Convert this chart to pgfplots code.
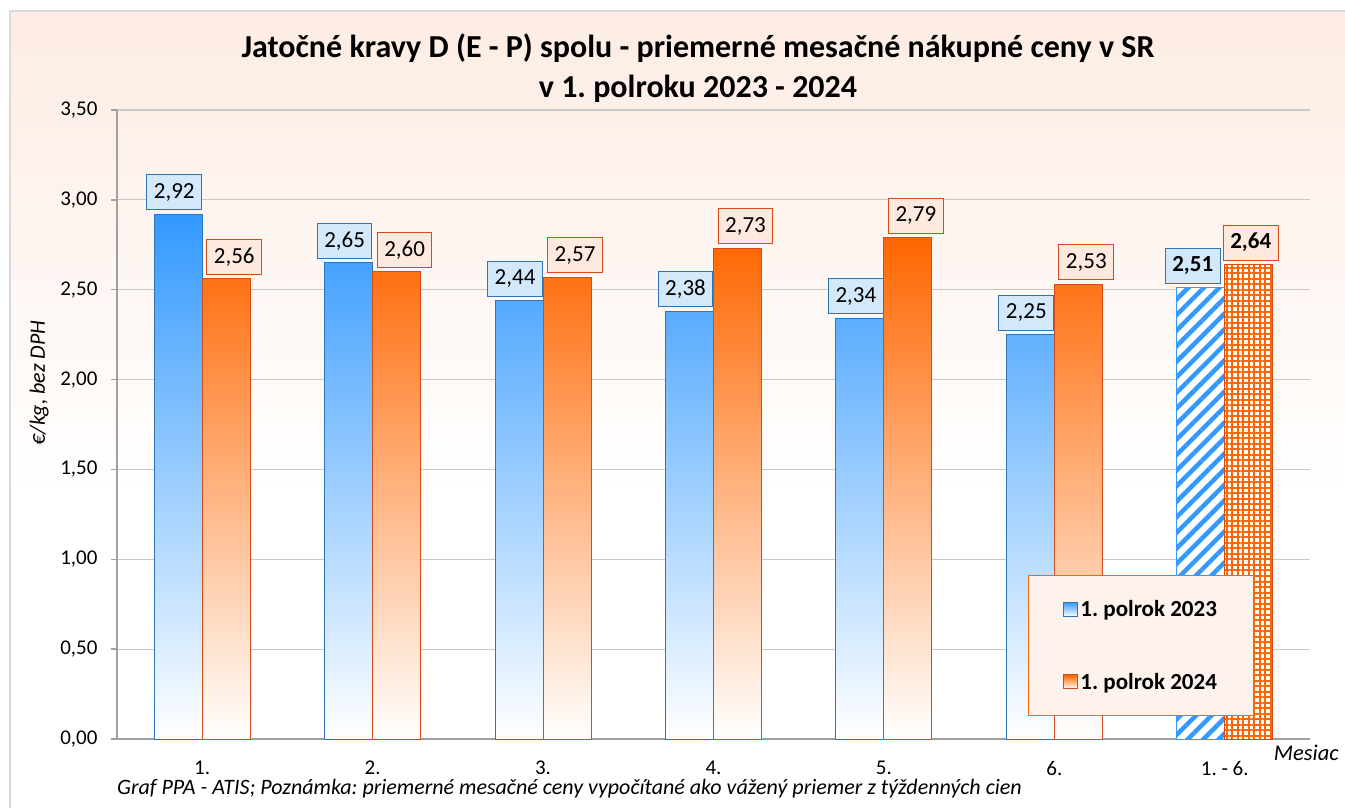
\documentclass[border=0pt]{standalone}
\usepackage{fontspec}
\setmainfont{Carlito}
\usepackage{pgfplots}
\pgfplotsset{compat=1.18}
\usetikzlibrary{patterns.meta}
\definecolor{bluetop}{RGB}{51,153,255}
\definecolor{blueedge}{RGB}{46,117,182}
\definecolor{orangetop}{RGB}{255,102,0}
\definecolor{orangeedge}{RGB}{210,75,25}
\definecolor{bluelab}{RGB}{212,232,252}
\definecolor{orangelab}{RGB}{253,233,221}
\definecolor{peach}{RGB}{252,230,218}
\definecolor{legfill}{RGB}{253,242,236}
\definecolor{gridc}{RGB}{200,200,200}
\definecolor{axisc}{RGB}{160,160,160}
\definecolor{framec}{RGB}{217,217,217}
\pgfplotsset{/pgf/number format/.cd, use comma, fixed, fixed zerofill, precision=2, assume math mode=true}
\frenchspacing
\begin{document}
\begin{tikzpicture}
\clip (0pt,0pt) rectangle (1345pt,-807pt);
\begin{scope}
\clip (10pt,-11pt) rectangle (1360pt,-820pt);
\fill[white] (10pt,-11pt) rectangle (1360pt,-820pt);
\shade[top color=peach, bottom color=white] (10pt,150pt) rectangle (1360pt,-500pt);
\end{scope}
\draw[framec, line width=1.5pt] (10pt,-11pt) rectangle (1360pt,-820pt);
\begin{axis}[
  at={(117pt,-739pt)}, anchor=south west,
  scale only axis, width=1193pt, height=629pt,
  xmin=-0.5, xmax=6.5, ymin=0, ymax=3.5,
  ytick={0,0.5,1,1.5,2,2.5,3,3.5},
  scaled y ticks=false,
  xtick={0,1,2,3,4,5,6},
  xticklabels={1.,2.,3.,4.,5.,6.,1. - 6.},
  axis lines*=left,
  axis line style={axisc, line width=1.5pt},
  ymajorgrids, grid style={gridc, line width=1.2pt},
  x tick style={draw=none},
  y tick style={axisc, line width=1.5pt},
  tick align=outside, major tick length=6pt,
  tick label style={font=\fontsize{21}{25}\selectfont},
  xticklabel style={inner sep=0pt, yshift=-16pt},
  yticklabel style={xshift=-10pt},
  clip=false,
  legend style={at={(0.7636,0.2607)}, anchor=north west, draw=orangetop, fill=legfill, line width=1pt,
    font=\bfseries\fontsize{23}{28}\selectfont, inner xsep=35pt, inner ysep=23pt, row sep=51pt},
  legend cell align=left,
]
\addplot[ybar, bar width=48pt, bar shift=-24pt, draw=blueedge, line width=1pt,
  top color=bluetop, bottom color=white,
  nodes near coords,
  every node near coord/.append style={draw=blueedge, fill=bluelab, text=black, line width=1pt,
    font=\fontsize{23}{27}\selectfont, inner xsep=7pt, minimum height=35pt, anchor=south, yshift=4pt, xshift=-28pt},
  legend image code/.code={\draw[draw=blueedge, line width=1pt, top color=bluetop, bottom color=white] (0pt,-7pt) rectangle (14pt,7pt);}
] coordinates {(0,2.92) (1,2.65) (2,2.44) (3,2.38) (4,2.34) (5,2.25)};
\addplot[ybar, bar width=48pt, bar shift=24pt, draw=orangeedge, line width=1pt,
  top color=orangetop, bottom color=white,
  nodes near coords,
  every node near coord/.append style={draw=orangeedge, fill=orangelab, text=black, line width=1pt,
    font=\fontsize{23}{27}\selectfont, inner xsep=7pt, minimum height=35pt, anchor=south, yshift=4pt, xshift=32pt},
  legend image code/.code={\draw[draw=orangeedge, line width=1pt, top color=orangetop, bottom color=white] (0pt,-7pt) rectangle (14pt,7pt);}
] coordinates {(0,2.56) (1,2.60) (2,2.57) (3,2.73) (4,2.79) (5,2.53)};
\addplot[ybar, forget plot, bar width=48pt, bar shift=-24pt, draw=bluetop, line width=1pt,
  preaction={fill=white},
  pattern={Lines[angle=45,distance=11pt,line width=4.5pt]}, pattern color=bluetop,
  nodes near coords,
  every node near coord/.append style={draw=blueedge, fill=bluelab, text=black, line width=1pt,
    font=\bfseries\fontsize{23}{27}\selectfont, inner xsep=7pt, minimum height=35pt, anchor=south, yshift=4pt, xshift=-32pt}
] coordinates {(6,2.51)};
\addplot[ybar, forget plot, bar width=48pt, bar shift=24pt, draw=orangeedge, line width=1pt,
  preaction={fill=white},
  pattern={Hatch[angle=0,distance=5.5pt,line width=2pt]}, pattern color=orangetop,
  nodes near coords,
  every node near coord/.append style={draw=orangeedge, fill=orangelab, text=black, line width=1pt,
    font=\bfseries\fontsize{23}{27}\selectfont, inner xsep=7pt, minimum height=35pt, anchor=south, yshift=4pt, xshift=26pt}
] coordinates {(6,2.64)};
\legend{1. polrok 2023, 1. polrok 2024}
\end{axis}
\node[font=\bfseries\fontsize{32}{40}\selectfont, align=center] at (698pt,-68pt)
  {Jatočné kravy D (E - P) spolu - priemerné mesačné nákupné ceny v SR\\v 1. polroku 2023 - 2024};
\node[rotate=90, font=\itshape\fontsize{22}{26}\selectfont] at (39pt,-383pt) {€/kg, bez DPH};
\node[anchor=west, inner sep=0pt, font=\itshape\fontsize{22}{26}\selectfont] at (117pt,-789pt)
  {Graf PPA - ATIS; Poznámka: priemerné mesačné ceny vypočítané ako vážený priemer z týždenných cien};
\node[anchor=east, inner sep=0pt, font=\itshape\fontsize{22.5}{26}\selectfont] at (1339pt,-753pt) {Mesiac};
\end{tikzpicture}
\end{document}
